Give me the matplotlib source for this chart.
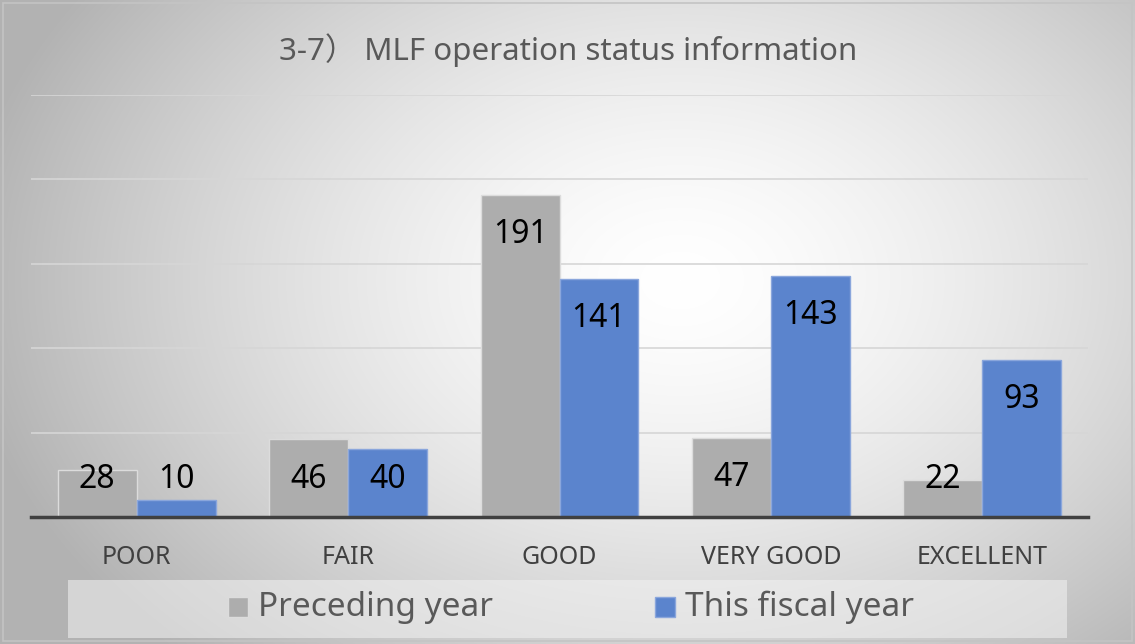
import numpy as np
import matplotlib
matplotlib.use("Agg")
import matplotlib.pyplot as plt
from matplotlib.patches import Rectangle

categories = ["POOR", "FAIR", "GOOD", "VERY GOOD", "EXCELLENT"]
preceding = [28, 46, 191, 47, 22]
this_year = [10, 40, 141, 143, 93]
series_names = ["Preceding year", "This fiscal year"]
title = "3-7） MLF operation status information"

plt.rcParams['font.family'] = ['Noto Sans', 'Noto Sans CJK JP', 'DejaVu Sans']

W, H = 1135, 644
fig = plt.figure(figsize=(W / 100, H / 100), dpi=100)

# background radial gradient
bg = fig.add_axes([0, 0, 1, 1])
yy, xx = np.mgrid[0:H, 0:W]
cx, cy = 680, 280
r = np.sqrt(((xx - cx) / 720.0) ** 2 + ((yy - cy) / 520.0) ** 2)
val = 1.0 - 0.30 * np.clip(r, 0, 1) ** 1.5
img = np.dstack([val, val, val])
bg.imshow(img, extent=[0, W, H, 0], aspect='auto')
bg.add_patch(Rectangle((3, 3), W - 6, H - 6, fill=False, edgecolor='#c4c4c4', lw=1.2))
# legend box
bg.add_patch(Rectangle((68, 580), 999, 58, facecolor='#f2f2f2', alpha=0.55, edgecolor='none'))
bg.set_xlim(0, W)
bg.set_ylim(H, 0)
bg.axis('off')

# main axes: x 31..1088, y 95..517
ax = fig.add_axes([31 / W, 1 - 517 / H, (1088 - 31) / W, (517 - 95) / H])
ax.patch.set_alpha(0)
x = np.arange(len(categories))
bw = 0.373
ax.bar(x - bw / 2, preceding, bw, color='#adadad', edgecolor='#dcdcdc', linewidth=1, zorder=3)
ax.bar(x + bw / 2, this_year, bw, color='#5b84cd', edgecolor='#8aa6dc', linewidth=1, zorder=3)
ax.set_xlim(-0.5, len(categories) - 0.5)
ax.set_ylim(0, 250)
ax.set_yticks([50, 100, 150, 200, 250])
ax.yaxis.grid(True, color='#d6d6d6', lw=1.2, zorder=0)
ax.tick_params(axis='y', left=False, labelleft=False)
ax.tick_params(axis='x', bottom=False, labelbottom=False)
for s in ['top', 'right', 'left']:
    ax.spines[s].set_visible(False)
ax.spines['bottom'].set_color('#404040')
ax.spines['bottom'].set_linewidth(2.5)
ax.spines['bottom'].set_zorder(4)

for xs, vals in ((x - bw / 2, preceding), (x + bw / 2, this_year)):
    for xi, v in zip(xs, vals):
        ax.text(xi, max(v - 23.5, 22), str(v), ha='center', va='center',
                fontsize=23, color='#000000', zorder=5)

for xi, c in zip(x, categories):
    ax.text(xi, -24, c, ha='center', va='center', fontsize=18, color='#404040')

fig.text(568 / W, 1 - 50 / H, title, ha='center', va='center', fontsize=22.5, color='#595959')

# legend
for (mx, tx, name, col, ec) in ((228, 258, series_names[0], '#adadad', '#dcdcdc'),
                                 (655, 685, series_names[1], '#5b84cd', '#8aa6dc')):
    bg.add_patch(Rectangle((mx, 597), 20, 20, facecolor=col, edgecolor=ec, lw=1))
    bg.text(tx, 607, name, ha='left', va='center', fontsize=24, color='#595959', fontweight='light')

fig.savefig('out.png', dpi=100)
